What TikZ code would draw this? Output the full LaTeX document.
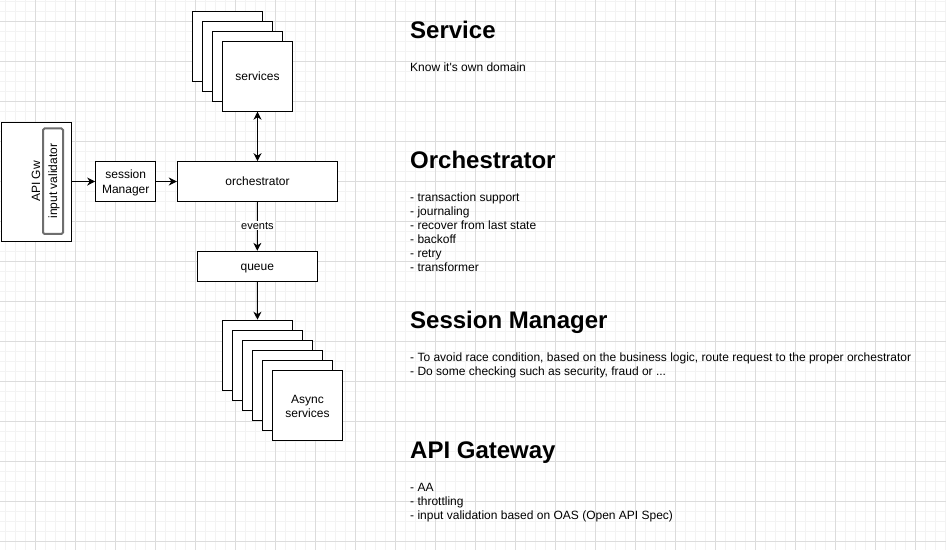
\documentclass[tikz,border=0pt]{standalone}
\usepackage{fontspec}
\setmainfont{Liberation Sans}
\usetikzlibrary{arrows.meta}
\definecolor{gridminor}{RGB}{243,243,243}
\definecolor{gridmajor}{RGB}{220,220,220}
\definecolor{ivgray}{RGB}{110,110,110}
\begin{document}
\begin{tikzpicture}[x=1pt,y=-1pt,
  box/.style={draw=black, line width=1pt, fill=white, inner sep=0pt, align=center, font=\fontsize{12}{14.4}\selectfont, text height=9.6pt, text depth=1.3pt},
  stackbox/.style={box, minimum width=70pt, minimum height=70pt},
  tip/.style={},
  arr/.style={draw=black, line width=1pt, -{Stealth[length=8pt,width=8pt,inset=2.5pt]}},
  darr/.style={draw=black, line width=1pt, {Stealth[length=8pt,width=8pt,inset=2.5pt]}-{Stealth[length=8pt,width=8pt,inset=2.5pt]}},
  lbl/.style={inner sep=0pt, font=\fontsize{12}{14.4}\selectfont, text height=9.6pt, text depth=1.3pt},
  head/.style={anchor=base west, inner sep=0pt, font=\fontsize{24}{28}\selectfont\bfseries},
  body/.style={anchor=base west, inner sep=0pt, font=\fontsize{12}{14}\selectfont}]
\useasboundingbox (0,0) rectangle (946,550);
\fill[white] (0,0) rectangle (946,550);
% grid
\foreach \x in {5.5,15.5,...,945.5} \draw[gridminor, line width=1pt] (\x,0) -- (\x,550);
\foreach \y in {1.7,11.7,...,549.7} \draw[gridminor, line width=1pt] (0,\y) -- (946,\y);
\foreach \x in {35.5,75.5,...,915.5} \draw[gridmajor, line width=0.8pt] (\x,0) -- (\x,550);
\foreach \y in {21.7,61.7,...,541.7} \draw[gridmajor, line width=0.8pt] (0,\y) -- (946,\y);

% API gateway
\node[box, minimum width=70pt, minimum height=119pt] (gw) at (36,181.5) {};
\node[lbl, rotate=90] (gwt) at (36,181.5) {API Gw};
\node[draw=ivgray, line width=2pt, rounded corners=1.5pt, fill=white, minimum width=20pt, minimum height=105.5pt, inner sep=0pt] (iv) at (53,181.2) {};
\node[lbl, rotate=90] (ivt) at (iv.center) {input validator};

% session manager, orchestrator, queue
\node[box, minimum width=60pt, minimum height=39.6pt] (sm) at (125.7,181.5) {};
\node[lbl, align=center, text height=, text depth=] (smt) at (125.7,182.8) {session\\Manager};
\node[box, minimum width=160.4pt, minimum height=39.6pt] (orch) at (257.5,181.5) {orchestrator};
\node[box, minimum width=120pt, minimum height=30pt] (queue) at (257.3,266.3) {queue};

% services stack
\node[stackbox] (s1) at (227.5,46.2) {};
\node[stackbox] (s2) at (237.5,56.2) {};
\node[stackbox] (s3) at (247.5,66.2) {};
\node[stackbox] (s4) at (257.5,76.2) {services};

% async services stack
\node[stackbox] (a1) at (257.5,355.2) {};
\node[stackbox] (a2) at (267.5,365.2) {};
\node[stackbox] (a3) at (277.5,375.2) {};
\node[stackbox] (a4) at (287.5,385.2) {};
\node[stackbox] (a5) at (297.5,395.2) {};
\node[stackbox] (a6) at (307.5,405.2) {};
\node[lbl, align=center, text height=, text depth=] (a6t) at (307.5,406.5) {Async\\services};

% connectors
\draw[arr] (gw.east) -- (sm.west);
\draw[arr] (sm.east) -- (orch.west);
\draw[darr] (s4.south) -- (orch.north);
\draw[arr] (orch.south) -- node[pos=0.49, fill=white, inner sep=1pt, font=\fontsize{11}{13}\selectfont] (ev) {events} (queue.north);
\draw[arr] (queue.south) -- (a1.north);

% right column
\node[head] (hsvc) at (410,38) {Service};
\node[body] (tsvc) at (410,71) {Know it\textquotesingle s own domain};

\node[head] (horch) at (410,168) {Orchestrator};
\node[body] (o1) at (410,201) {- transaction support};
\node[body] (o2) at (410,215) {- journaling};
\node[body] (o3) at (410,229) {- recover from last state};
\node[body] (o4) at (410,243) {- backoff};
\node[body] (o5) at (410,257) {- retry};
\node[body] (o6) at (410,271) {- transformer};

\node[head] (hsm) at (410,328) {Session Manager};
\node[body] (m1) at (410,361) {- To avoid race condition, based on the business logic, route request to the proper orchestrator};
\node[body] (m2) at (410,375) {- Do some checking such as security, fraud or ...};

\node[head] (hgw) at (410,458) {API Gateway};
\node[body] (g1) at (410,491) {- AA};
\node[body] (g2) at (410,505) {- throttling};
\node[body] (g3) at (410,519) {- input validation based on OAS (Open API Spec)};
\end{tikzpicture}
\end{document}
